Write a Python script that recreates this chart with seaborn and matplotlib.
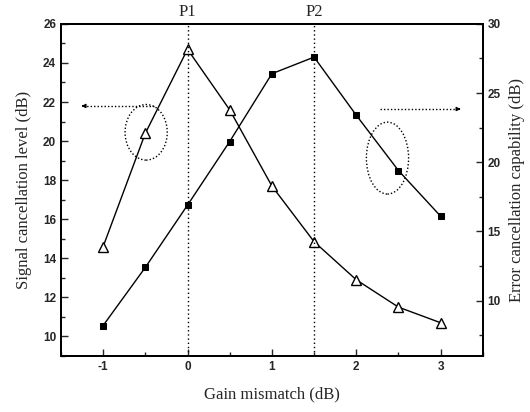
import matplotlib
matplotlib.use("Agg")
import matplotlib.pyplot as plt
import seaborn as sns
import pandas as pd
from matplotlib.patches import Ellipse
from matplotlib.ticker import MultipleLocator

gain_mismatch = [-1, -0.5, 0, 0.5, 1, 1.5, 2, 2.5, 3]
signal_cancel = [14.6, 20.4, 24.7, 21.6, 17.7, 14.85, 12.9, 11.5, 10.7]
error_cancel = [8.2, 12.4, 16.9, 21.5, 26.4, 27.6, 23.4, 19.4, 16.1]
peak_x = [0, 1.5]
peak_labels = ["P1", "P2"]

sns.set_style("ticks")
plt.rcParams['axes.unicode_minus'] = False

df = pd.DataFrame({"x": gain_mismatch, "sig": signal_cancel, "err": error_cancel})

fig = plt.figure(figsize=(5.3, 4.12), dpi=100)
ax = fig.add_axes([0.115, 0.136, 0.796, 0.806])
ax2 = ax.twinx()

sns.lineplot(data=df, x="x", y="sig", ax=ax, color="black", lw=1.0,
             marker="^", markersize=7, markerfacecolor="white",
             markeredgecolor="black", markeredgewidth=1.0)
sns.lineplot(data=df, x="x", y="err", ax=ax2, color="black", lw=1.0,
             marker="s", markersize=5, markerfacecolor="black",
             markeredgecolor="black")

ax.set_xlim(-1.5, 3.5)
ax.set_ylim(9, 26)
ax2.set_ylim(6, 30)

for px, lab in zip(peak_x, peak_labels):
    ax.axvline(px, color="black", ls=(0, (1, 2)), lw=1.0)
    ax.text(px, 26.2, lab, ha="center", va="bottom", fontsize=12,
            family="Liberation Serif")

ax.xaxis.set_major_locator(MultipleLocator(1))
ax.xaxis.set_minor_locator(MultipleLocator(0.5))
ax.yaxis.set_major_locator(MultipleLocator(2))
ax.yaxis.set_minor_locator(MultipleLocator(1))
ax2.yaxis.set_major_locator(MultipleLocator(5))
ax2.yaxis.set_minor_locator(MultipleLocator(2.5))

ax.tick_params(axis="both", which="both", direction="in", top=False, right=False)
ax.tick_params(which="major", length=5, width=1)
ax.tick_params(which="minor", length=3, width=1)
ax2.tick_params(axis="y", which="both", direction="in")
ax2.tick_params(which="major", length=5, width=1)
ax2.tick_params(which="minor", length=3, width=1)

for a in (ax, ax2):
    for sp in a.spines.values():
        sp.set_visible(True)
        sp.set_linewidth(1.4)
        sp.set_color("black")
    for lab in a.get_xticklabels() + a.get_yticklabels():
        lab.set_family("Liberation Sans")
        lab.set_fontweight("bold")
        lab.set_fontsize(8.5)

ax.set_xlabel("Gain mismatch (dB)", family="Liberation Serif", fontsize=12, labelpad=10)
ax.set_ylabel("Signal cancellation level (dB)", family="Liberation Serif", fontsize=12, labelpad=8)
ax2.set_ylabel("Error cancellation capability (dB)", family="Liberation Serif", fontsize=12, labelpad=6)

# annotations
dotted = (0, (1, 1.5))
ax.add_patch(Ellipse((-0.49, 20.45), 0.5, 2.85, fill=False, ls=dotted, lw=1.0, color="black"))
ax.plot([-0.4, -1.24], [21.8, 21.8], color="black", ls=dotted, lw=1.0)
ax.annotate("", xy=(-1.29, 21.8), xytext=(-1.2, 21.8),
            arrowprops=dict(arrowstyle="-|>", color="black", lw=0.8, mutation_scale=6))

ax2.add_patch(Ellipse((2.37, 20.3), 0.5, 5.2, fill=False, ls=dotted, lw=1.0, color="black"))
ax2.plot([2.28, 3.22], [23.85, 23.85], color="black", ls=dotted, lw=1.0)
ax2.annotate("", xy=(3.27, 23.85), xytext=(3.18, 23.85),
             arrowprops=dict(arrowstyle="-|>", color="black", lw=0.8, mutation_scale=6))

fig.savefig("out.png", dpi=100)
